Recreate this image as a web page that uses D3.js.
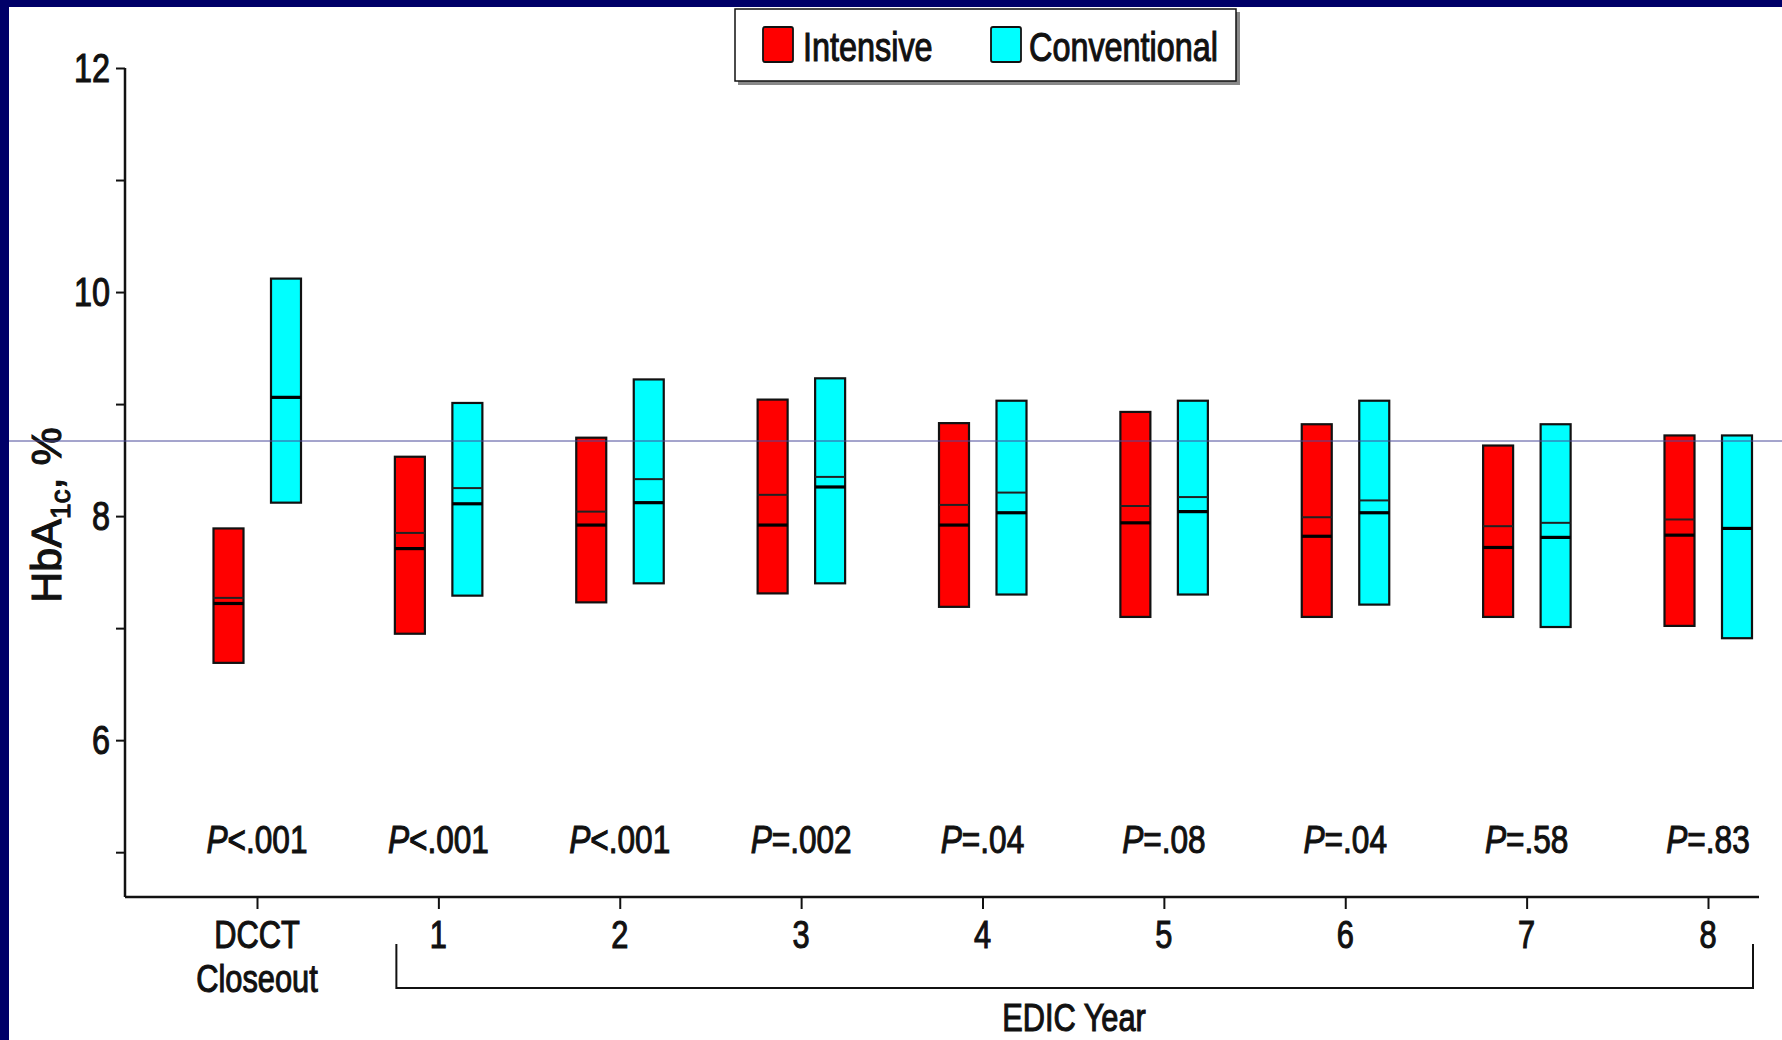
<!DOCTYPE html>
<html>
<head>
<meta charset="utf-8">
<script src="https://cdn.jsdelivr.net/npm/d3@7"></script>
<style>
  html, body { margin: 0; padding: 0; background: #000068; }
  svg { display: block; }
  text { font-family: "Liberation Sans Narrow", "Arial Narrow", "Liberation Sans", Arial, sans-serif; fill: #111; stroke: #111; stroke-width: 1.1px; }
</style>
</head>
<body>
<div id="chart"></div>
<script>
// HbA1c by visit, intensive vs conventional (box = range, thin line = mean, thick = median)
const categories = ["DCCT", "1", "2", "3", "4", "5", "6", "7", "8"];
const pValues = ["<.001", "<.001", "<.001", "=.002", "=.04", "=.08", "=.04", "=.58", "=.83"];
const yTicks = [5, 6, 7, 8, 9, 10, 11, 12];
const yLabeled = [6, 8, 10, 12];

const intLow    = [6.69, 6.95, 7.23, 7.31, 7.19, 7.10, 7.10, 7.10, 7.02];
const intHigh   = [7.89, 8.53, 8.70, 9.04, 8.83, 8.93, 8.82, 8.63, 8.72];
const intMean   = [7.27, 7.85, 8.04, 8.19, 8.10, 8.09, 7.99, 7.91, 7.97];
const intMedian = [7.22, 7.71, 7.92, 7.92, 7.92, 7.94, 7.82, 7.72, 7.83];

const convLow    = [8.12, 7.29, 7.40, 7.40, 7.30, 7.30, 7.21, 7.01, 6.91];
const convHigh   = [10.12, 9.01, 9.22, 9.23, 9.03, 9.03, 9.03, 8.82, 8.72];
const convMean   = [9.06, 8.25, 8.33, 8.35, 8.21, 8.17, 8.14, 7.94, 7.89];
const convMedian = [9.06, 8.11, 8.12, 8.26, 8.03, 8.04, 8.03, 7.81, 7.89];

const width = 1782, height = 1040;
const squeeze = 0.81; // source lettering is a condensed face

const svg = d3.select("#chart").append("svg")
  .attr("width", width)
  .attr("height", height);

// slide frame: navy strip top + left, white inside
svg.append("rect").attr("width", width).attr("height", height).attr("fill", "#000068");
svg.append("rect").attr("x", 9).attr("y", 7).attr("width", width - 9).attr("height", height - 7).attr("fill", "#fff");

const x = d3.scalePoint().domain(categories).range([257, 1708]);
const y = d3.scaleLinear().domain([4.6, 12]).range([897, 68]);

const series = [
  { name: "Intensive", color: "#ff0000", dx: -28.5, low: intLow, high: intHigh, mean: intMean, median: intMedian },
  { name: "Conventional", color: "#00ffff", dx: 29, low: convLow, high: convHigh, mean: convMean, median: convMedian }
];
const boxW = 30;

// condensed text helper
function label(parent, tx, ty, size, anchor) {
  return parent.append("text")
    .attr("transform", `translate(${tx},${ty}) scale(${squeeze},1)`)
    .attr("text-anchor", anchor || "middle")
    .attr("font-size", size);
}

// y axis
const yAxis = svg.append("g")
  .attr("transform", "translate(125,0)")
  .call(d3.axisLeft(y).tickValues(yTicks).tickSize(9).tickFormat(""));
yAxis.select(".domain").remove();
yAxis.selectAll(".tick line").attr("stroke", "#111").attr("stroke-width", 2);
yAxis.append("line").attr("x1", 0).attr("x2", 0).attr("y1", y(12)).attr("y2", y(4.6))
  .attr("stroke", "#111").attr("stroke-width", 2.5);
yLabeled.forEach(v => {
  label(svg, 110, y(v) + 14, 40, "end").text(v);
});

// x axis
const xAxis = svg.append("g")
  .attr("transform", "translate(0,897)")
  .call(d3.axisBottom(x).tickSize(12).tickFormat(""));
xAxis.select(".domain").remove();
xAxis.selectAll(".tick line").attr("stroke", "#111").attr("stroke-width", 2);
xAxis.append("line").attr("x1", 125).attr("x2", 1759).attr("y1", 0).attr("y2", 0)
  .attr("stroke", "#111").attr("stroke-width", 2.5);

// category labels
categories.forEach((c, i) => {
  const lines = i === 0 ? ["DCCT", "Closeout"] : [c];
  lines.forEach((l, j) => label(svg, x(c), 948 + j * 44, 38).text(l));
});

// EDIC bracket
svg.append("path")
  .attr("d", `M${x("1") - 42},944V988H${x("8") + 45}V944`)
  .attr("fill", "none").attr("stroke", "#111").attr("stroke-width", 2);
label(svg, 1074, 1031, 38).text("EDIC Year");

// boxes
series.forEach(s => {
  const g = svg.append("g");
  categories.forEach((c, i) => {
    const cx = x(c) + s.dx;
    g.append("rect")
      .attr("x", cx - boxW / 2).attr("y", y(s.high[i]))
      .attr("width", boxW).attr("height", y(s.low[i]) - y(s.high[i]))
      .attr("fill", s.color).attr("stroke", "#111").attr("stroke-width", 2.2);
    g.append("line")
      .attr("x1", cx - boxW / 2).attr("x2", cx + boxW / 2)
      .attr("y1", y(s.mean[i])).attr("y2", y(s.mean[i]))
      .attr("stroke", "#222").attr("stroke-width", 2);
    g.append("line")
      .attr("x1", cx - boxW / 2).attr("x2", cx + boxW / 2)
      .attr("y1", y(s.median[i])).attr("y2", y(s.median[i]))
      .attr("stroke", "#000").attr("stroke-width", 3.2);
  });
});

// P values
categories.forEach((c, i) => {
  const t = label(svg, x(c), 853, 39);
  t.append("tspan").attr("font-style", "italic").text("P");
  t.append("tspan").text(pValues[i]);
});

// y title
const yt = svg.append("text")
  .attr("transform", "translate(61,515) rotate(-90)")
  .attr("text-anchor", "middle").attr("font-size", 43);
yt.append("tspan").text("HbA");
yt.append("tspan").attr("font-size", 28).attr("dy", 9).text("1c");
yt.append("tspan").attr("dy", -9).text(", %");

// legend
const lg = svg.append("g");
lg.append("rect").attr("x", 738).attr("y", 12).attr("width", 502).attr("height", 73).attr("fill", "#888");
lg.append("rect").attr("x", 735).attr("y", 9).attr("width", 501).attr("height", 72)
  .attr("fill", "#fff").attr("stroke", "#111").attr("stroke-width", 1.5);
const legendPos = [{ sx: 763, tx: 803 }, { sx: 991, tx: 1029 }];
series.forEach((s, i) => {
  lg.append("rect").attr("x", legendPos[i].sx).attr("y", 27).attr("width", 30).attr("height", 35)
    .attr("rx", 2).attr("fill", s.color).attr("stroke", "#111").attr("stroke-width", 1.8);
  label(lg, legendPos[i].tx, 61, 40, "start").text(s.name);
});

// stray scan line in the source slide
svg.append("line").attr("x1", 9).attr("x2", width).attr("y1", 441).attr("y2", 441)
  .attr("stroke", "#4a4a9a").attr("stroke-width", 1);
</script>
</body>
</html>
